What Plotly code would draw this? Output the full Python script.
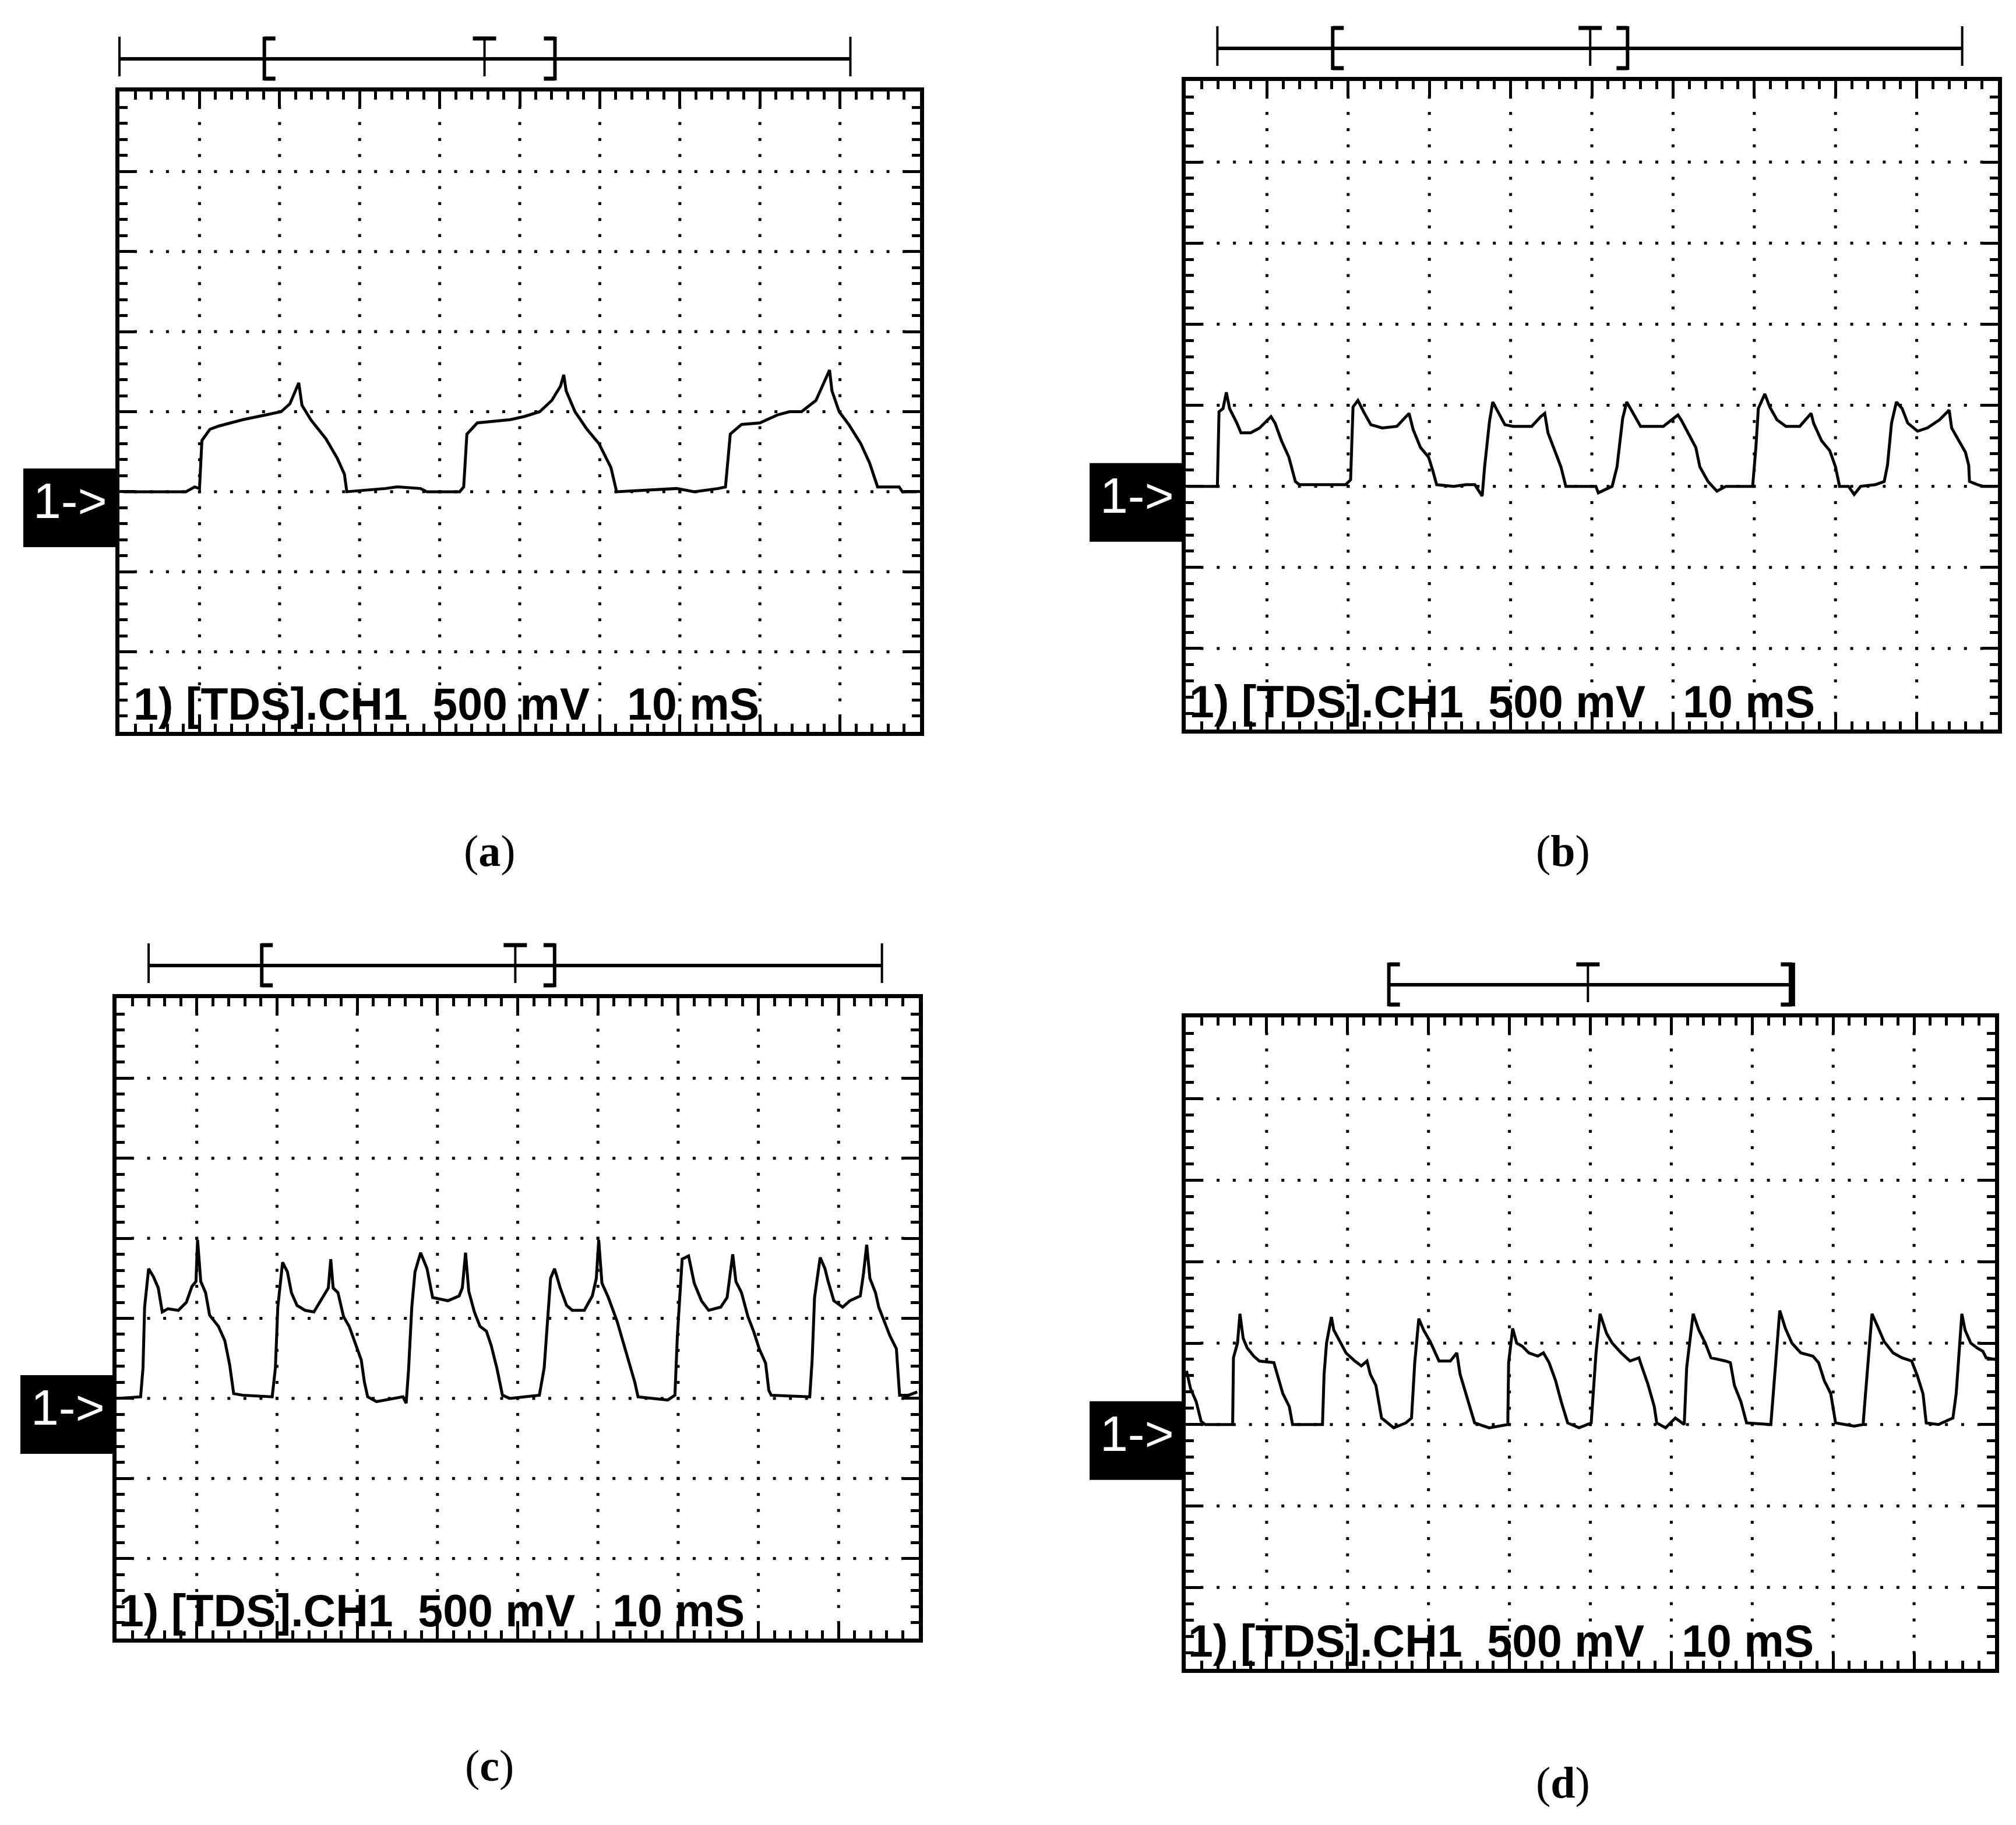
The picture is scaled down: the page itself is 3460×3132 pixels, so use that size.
import plotly.graph_objects as go

W, H = 3460, 3132

# readings off the four scope screens: time in ms (10 ms/div), signal in V above the
# channel-1 ground marker (500 mV/div)
a_t = [0.5, 8.3, 9.4, 10.0, 10.3, 11.3, 12.4, 15.4, 18.3, 20.2, 21.3, 22.4, 22.8, 23.9, 25.8,
       27.2, 28.1, 28.4, 33.2, 34.7, 37.6, 38.4, 42.5, 43.0, 43.4, 44.7, 48.8, 50.6, 52.5, 54.0,
       55.1, 55.5, 55.8, 56.9, 58.4, 59.9, 61.4, 62.1, 69.6, 71.8, 74.8, 75.7, 76.3, 77.7, 80.0,
       82.2, 83.7, 85.2, 87.0, 88.1, 88.7, 89.0, 89.9, 91.1, 92.6, 93.7, 94.7, 97.4, 97.8, 99.6]
a_v = [0, 0, 0.03, 0.02, 0.32, 0.39, 0.41, 0.45, 0.48, 0.50, 0.55, 0.68, 0.54, 0.45, 0.33,
       0.21, 0.11, 0, 0.02, 0.03, 0.02, 0, 0, 0.03, 0.36, 0.43, 0.45, 0.47, 0.50, 0.57,
       0.66, 0.73, 0.63, 0.50, 0.39, 0.30, 0.15, 0, 0.02, 0, 0.02, 0.03, 0.36, 0.42, 0.43,
       0.48, 0.50, 0.50, 0.57, 0.69, 0.76, 0.63, 0.50, 0.42, 0.30, 0.18, 0.03, 0.03, 0, 0]

b_t = [0.2, 3.9, 4.1, 4.6, 5.0, 5.4, 6.3, 6.8, 8.0, 9.1,
       10.5, 11.0, 11.8, 12.7, 13.5, 14.0, 19.7, 20.3, 20.6, 21.2,
       21.9, 22.8, 24.2, 26.0, 27.5, 28.0, 28.9, 29.9, 30.4, 30.9,
       33.0, 34.5, 35.6, 36.5, 36.8, 37.4, 37.8, 38.5, 39.3, 40.3,
       42.6, 43.7, 44.2, 44.6, 45.5, 46.2, 46.8, 50.5, 50.8, 52.5,
       53.1, 53.8, 54.3, 55.1, 56.0, 58.8, 60.6, 61.0, 62.1, 62.8,
       63.3, 64.3, 65.4, 66.5, 69.8, 70.2, 70.5, 71.3, 71.9, 72.8,
       73.9, 75.6, 77.0, 77.3, 78.3, 79.3, 80.0, 80.5, 81.6, 82.3,
       83.1, 84.9, 86.0, 86.4, 86.9, 87.5, 88.2, 88.9, 90.1, 91.3,
       92.8, 94.0, 94.3, 95.2, 96.0, 96.4, 96.5, 97.5, 98.2, 99.9]
b_v = [0, 0, 0.46, 0.48, 0.58, 0.48, 0.39, 0.33, 0.33, 0.36,
       0.43, 0.39, 0.28, 0.18, 0.03, 0.01, 0.01, 0.04, 0.49, 0.53,
       0.46, 0.38, 0.36, 0.37, 0.45, 0.35, 0.24, 0.18, 0.10, 0.01,
       0, 0.01, 0.01, -0.06, 0.12, 0.40, 0.52, 0.45, 0.38, 0.37,
       0.37, 0.43, 0.45, 0.33, 0.21, 0.12, 0, 0, -0.04, 0,
       0.12, 0.42, 0.52, 0.45, 0.37, 0.37, 0.44, 0.41, 0.30, 0.24,
       0.12, 0.03, -0.03, 0, 0, 0.24, 0.48, 0.57, 0.49, 0.41,
       0.37, 0.37, 0.45, 0.39, 0.28, 0.22, 0.12, 0, 0, -0.05,
       0, 0.01, 0.03, 0.13, 0.39, 0.52, 0.48, 0.39, 0.34, 0.36,
       0.41, 0.47, 0.36, 0.28, 0.21, 0.13, 0.03, 0.01, 0, 0]

c_t = [0.1, 3.0, 3.3, 3.5, 4.0, 4.6, 5.2, 5.7, 6.4, 7.7,
       8.7, 9.4, 9.9, 10.1, 10.5, 11.1, 11.6, 12.7, 13.5, 14.1,
       14.6, 15.7, 19.4, 19.8, 20.1, 20.7, 21.3, 21.8, 22.5, 23.5,
       24.6, 25.7, 26.4, 26.7, 27.0, 27.6, 28.3, 29.0, 29.8, 30.5,
       30.9, 31.3, 32.4, 33.5, 35.7, 36.1, 36.4, 36.8, 37.2, 37.9,
       38.7, 39.4, 41.3, 42.7, 43.1, 43.5, 43.9, 44.6, 45.3, 46.1,
       46.7, 47.4, 48.1, 49.0, 52.7, 53.3, 53.6, 54.1, 54.6, 55.3,
       56.1, 56.8, 58.3, 59.3, 59.8, 60.1, 60.5, 61.3, 62.4, 63.1,
       63.8, 64.6, 65.0, 68.7, 69.6, 69.9, 70.5, 71.3, 72.0, 72.9,
       73.8, 75.3, 76.1, 76.8, 77.2, 77.9, 78.7, 79.4, 80.1, 80.9,
       81.3, 81.6, 86.4, 86.7, 87.0, 87.7, 88.3, 88.7, 89.4, 90.5,
       91.4, 92.7, 93.1, 93.5, 93.9, 94.6, 95.0, 95.7, 96.4, 97.2,
       97.6, 98.7, 99.8]
c_v = [0, 0.01, 0.19, 0.57, 0.81, 0.76, 0.69, 0.54, 0.56, 0.55,
       0.60, 0.70, 0.73, 0.99, 0.73, 0.66, 0.52, 0.45, 0.36, 0.21,
       0.03, 0.02, 0.01, 0.19, 0.57, 0.85, 0.79, 0.66, 0.58, 0.55,
       0.54, 0.63, 0.69, 0.87, 0.69, 0.66, 0.51, 0.45, 0.34, 0.24,
       0.10, 0.01, -0.02, -0.01, 0.01, -0.03, 0.18, 0.57, 0.79, 0.91,
       0.81, 0.63, 0.61, 0.64, 0.69, 0.91, 0.67, 0.54, 0.45, 0.42,
       0.33, 0.19, 0.02, 0, 0.02, 0.19, 0.42, 0.75, 0.81, 0.69,
       0.58, 0.55, 0.55, 0.64, 0.75, 0.99, 0.72, 0.63, 0.48, 0.36,
       0.24, 0.10, 0.01, -0.01, 0.02, 0.39, 0.87, 0.89, 0.72, 0.61,
       0.55, 0.57, 0.63, 0.90, 0.73, 0.66, 0.51, 0.42, 0.31, 0.22,
       0.05, 0.02, 0.01, 0.24, 0.63, 0.88, 0.81, 0.73, 0.61, 0.57,
       0.61, 0.64, 0.78, 0.96, 0.75, 0.66, 0.57, 0.48, 0.39, 0.31,
       0.02, 0.02, 0.04]

d_t = [0.1, 0.6, 1.3, 1.9, 2.4, 5.8, 5.9, 6.4, 6.7, 7.1,
       7.6, 8.4, 9.1, 10.9, 11.3, 12.0, 12.8, 13.2, 16.9, 17.1,
       17.4, 18.0, 18.3, 19.1, 19.8, 20.9, 21.7, 22.4, 22.8, 23.5,
       24.2, 25.7, 27.2, 27.9, 28.3, 28.8, 29.4, 30.2, 31.3, 32.7,
       33.5, 33.9, 34.6, 35.7, 37.5, 39.8, 39.9, 40.4, 40.9, 41.6,
       42.4, 43.5, 44.2, 44.9, 45.7, 46.4, 47.2, 48.6, 50.1, 50.7,
       51.2, 52.0, 52.7, 53.8, 54.9, 56.0, 56.4, 57.1, 57.9, 58.2,
       59.3, 60.5, 61.6, 61.9, 62.7, 63.4, 64.2, 64.9, 66.7, 67.3,
       67.8, 68.6, 69.3, 72.3, 72.9, 73.4, 74.1, 74.9, 76.0, 77.5,
       78.2, 78.9, 79.7, 80.3, 82.6, 83.7, 84.0, 84.5, 84.8, 85.6,
       86.3, 87.4, 88.5, 89.7, 90.4, 91.1, 91.5, 93.0, 94.8, 95.2,
       95.6, 95.9, 96.3, 97.0, 97.8, 98.5, 98.9, 100.0]
d_v = [0.33, 0.22, 0.14, 0.02, 0, 0, 0.41, 0.50, 0.68, 0.53,
       0.47, 0.42, 0.39, 0.38, 0.31, 0.19, 0.11, 0, 0, 0.31,
       0.50, 0.66, 0.58, 0.50, 0.44, 0.39, 0.36, 0.39, 0.31, 0.24,
       0.04, -0.02, 0.01, 0.04, 0.38, 0.65, 0.58, 0.51, 0.39, 0.39,
       0.44, 0.31, 0.19, 0.01, -0.02, 0, 0.38, 0.59, 0.50, 0.48,
       0.44, 0.42, 0.44, 0.38, 0.27, 0.14, 0.01, -0.02, 0.01, 0.44,
       0.68, 0.56, 0.50, 0.44, 0.39, 0.41, 0.35, 0.25, 0.11, 0.01,
       -0.02, 0.04, 0, 0.35, 0.68, 0.58, 0.50, 0.41, 0.39, 0.38,
       0.24, 0.14, 0.01, 0, 0.38, 0.70, 0.59, 0.50, 0.44, 0.42,
       0.38, 0.27, 0.19, 0.01, -0.01, 0, 0.19, 0.50, 0.68, 0.59,
       0.51, 0.44, 0.41, 0.39, 0.30, 0.19, 0.01, 0, 0.04, 0.19,
       0.50, 0.68, 0.58, 0.50, 0.47, 0.45, 0.41, 0.40]

# record bar above each screen (ms): outer ends, "[", trigger "T", "]"
a_bracket = [0, 18.1, 45.6, 54.4, 91.3]
b_bracket = [3.9, 18.1, 49.8, 54.4, 95.6]
c_bracket = [4.0, 18.1, 49.7, 54.6, 95.4]
d_bracket = [None, 25.1, 49.7, 74.9, None]

captions = ["a", "b", "c", "d"]
screen_text = "1) [TDS].CH1  500 mV   10 mS"
marker_text = "1->"

# layout of the four screens in pixels: left, right, top, bottom
frames = [(197, 1571, 149, 1248), (2027, 3421, 131, 1244),
          (192, 1569, 1705, 2804), (2027, 3416, 1738, 2856)]
caption_xy = [(832, 1453), (2674, 1453), (832, 3022), (2674, 3051)]
text_shift = [22, 4, 2, 2]

series = [(a_t, a_v, a_bracket), (b_t, b_v, b_bracket), (c_t, c_v, c_bracket), (d_t, d_v, d_bracket)]


def px(x):
    return x / W


def py(y):
    return 1 - y / H


def seg(x0, y0, x1, y1, w):
    return dict(type="line", xref="paper", yref="paper", x0=px(x0), y0=py(y0), x1=px(x1), y1=py(y1),
                line=dict(color="black", width=w), layer="above")


fig = go.Figure()
shapes, notes = [], []

for i, (t, v, br) in enumerate(series):
    L, R, T, B = frames[i]
    n = "" if i == 0 else str(i + 1)

    # dotted graticule, one dot every 1/5 division
    gx, gy = [], []
    for k in range(1, 10):
        for j in range(1, 40):
            gx.append(k * 10)
            gy.append(-1.5 + j * 0.1)
    for k in range(1, 8):
        for j in range(1, 50):
            gx.append(j * 2)
            gy.append(-1.5 + k * 0.5)
    fig.add_trace(go.Scatter(x=gx, y=gy, xaxis="x" + n, yaxis="y" + n, mode="markers",
                             marker=dict(symbol="square", size=5, color="black", line=dict(width=0)),
                             hoverinfo="skip", showlegend=False))
    fig.add_trace(go.Scatter(x=t, y=v, xaxis="x" + n, yaxis="y" + n, mode="lines",
                             line=dict(color="black", width=5), showlegend=False))

    common = dict(showline=True, linecolor="black", linewidth=7, mirror="allticks",
                  ticks="inside", ticklen=27, tickwidth=5, tickcolor="black",
                  showticklabels=False, showgrid=False, zeroline=False, fixedrange=True)
    fig.update_layout({
        "xaxis" + n: dict(domain=[px(L), px(R)], range=[0, 100], anchor="y" + n, tick0=0, dtick=10,
                          minor=dict(ticks="inside", ticklen=14, tickwidth=5, tickcolor="black",
                                     tick0=0, dtick=2, showgrid=False), **common),
        "yaxis" + n: dict(domain=[py(B), py(T)], range=[-1.5, 2.5], anchor="x" + n, tick0=0, dtick=0.5,
                          minor=dict(ticks="inside", ticklen=14, tickwidth=5, tickcolor="black",
                                     tick0=0, dtick=0.1, showgrid=False), **common),
    })

    def X(ms):
        return L + ms / 100 * (R - L)

    # record bar with window brackets and trigger mark
    yb = T - 56
    left_end, open_br, trig, close_br, right_end = br
    x_start = X(left_end) if left_end is not None else X(open_br)
    x_stop = X(right_end) if right_end is not None else X(close_br)
    shapes.append(seg(x_start, yb, x_stop, yb, 6))
    for e in (left_end, right_end):
        if e is not None:
            shapes.append(seg(X(e), yb - 38, X(e), yb + 30, 4))
    xo = X(open_br)
    shapes += [seg(xo, yb - 38, xo, yb + 37, 6), seg(xo, yb - 35, xo + 19, yb - 35, 7),
               seg(xo, yb + 34, xo + 19, yb + 34, 7)]
    xc = X(close_br)
    wc = 11 if right_end is None else 6
    shapes += [seg(xc, yb - 38, xc, yb + 37, wc), seg(xc - 19, yb - 35, xc, yb - 35, 7),
               seg(xc - 19, yb + 34, xc, yb + 34, 7)]
    xt = X(trig)
    shapes += [seg(xt - 20, yb - 35, xt + 20, yb - 35, 7), seg(xt, yb - 38, xt, yb + 30, 4)]

    # channel ground marker
    g = T + 5 / 8 * (B - T)
    shapes.append(dict(type="rect", xref="paper", yref="paper", x0=px(L - 165), x1=px(L),
                       y0=py(g + 95), y1=py(g - 40), fillcolor="black", line=dict(width=0)))
    notes.append(dict(x=px(L - 84), y=py(g + 15), xref="paper", yref="paper", text=marker_text,
                      showarrow=False, xanchor="center", yanchor="middle",
                      font=dict(family="Liberation Sans", size=86, color="white")))

    # screen readout
    notes.append(dict(x=px(L + text_shift[i]), y=py(B - 48), xref="paper", yref="paper",
                      text="<b>" + screen_text + "</b>", showarrow=False, xanchor="left", yanchor="middle",
                      font=dict(family="Liberation Sans", size=77, color="black")))

    cx, cy = caption_xy[i]
    notes.append(dict(x=px(cx), y=py(cy), xref="paper", yref="paper", text="(<b>" + captions[i] + "</b>)",
                      showarrow=False, xanchor="center", yanchor="middle",
                      font=dict(family="Liberation Serif", size=76, color="black")))

fig.update_layout(width=W, height=H, margin=dict(l=0, r=0, t=0, b=0),
                  paper_bgcolor="white", plot_bgcolor="white", showlegend=False,
                  shapes=shapes, annotations=notes)

fig.write_html("out.html")
